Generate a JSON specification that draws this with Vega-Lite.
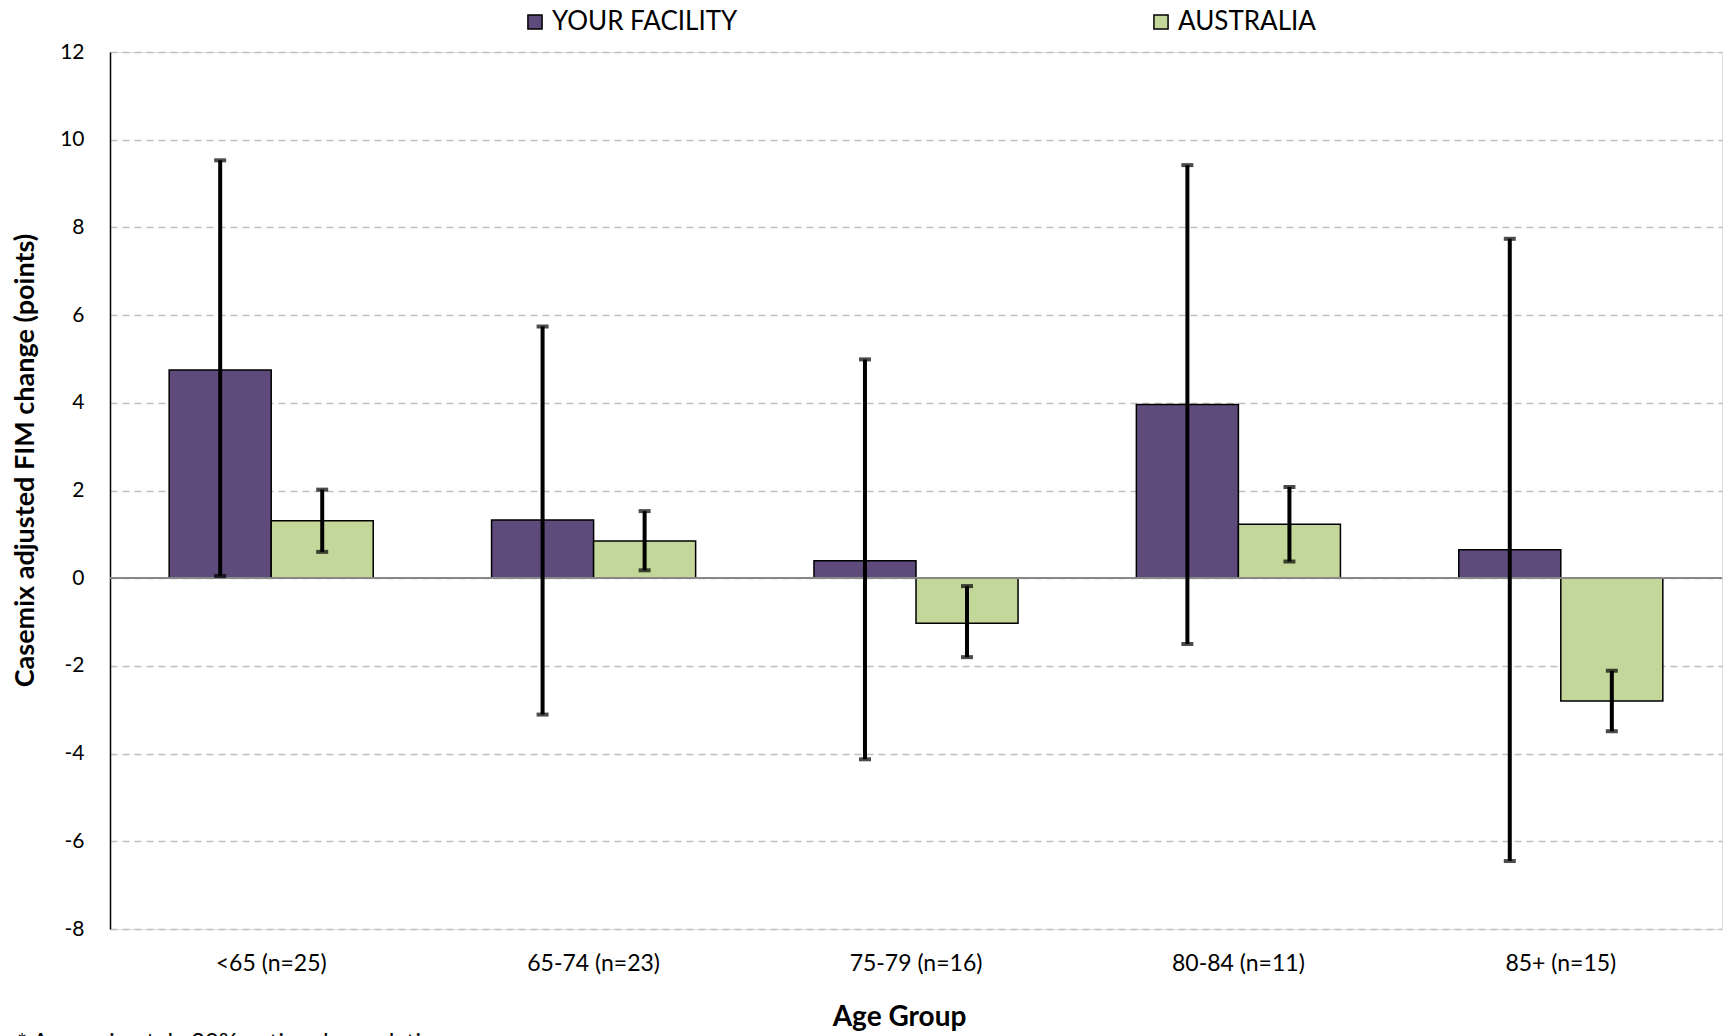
{
  "$schema": "https://vega.github.io/schema/vega-lite/v6.json",
  "width": 1612,
  "height": 877,
  "autosize": {"type": "none"},
  "padding": {"left": 110, "top": 52, "right": 3, "bottom": 107},
  "background": "white",
  "title": {
    "text": "* Approximately 20% national population per age group",
    "orient": "bottom",
    "anchor": "start",
    "frame": "group",
    "dx": -93,
    "offset": 0,
    "fontSize": 24,
    "fontWeight": "normal",
    "font": "Lato",
    "color": "#000000",
    "baseline": "top"
  },
  "data": {
    "values": [
      {"group": "<65 (n=25)", "series": "YOUR FACILITY", "value": 4.75, "lo": 0.05, "hi": 9.53},
      {"group": "<65 (n=25)", "series": "AUSTRALIA", "value": 1.31, "lo": 0.6, "hi": 2.02},
      {"group": "65-74 (n=23)", "series": "YOUR FACILITY", "value": 1.33, "lo": -3.11, "hi": 5.74},
      {"group": "65-74 (n=23)", "series": "AUSTRALIA", "value": 0.85, "lo": 0.18, "hi": 1.53},
      {"group": "75-79 (n=16)", "series": "YOUR FACILITY", "value": 0.4, "lo": -4.13, "hi": 4.99},
      {"group": "75-79 (n=16)", "series": "AUSTRALIA", "value": -1.03, "lo": -1.8, "hi": -0.18},
      {"group": "80-84 (n=11)", "series": "YOUR FACILITY", "value": 3.96, "lo": -1.5, "hi": 9.42},
      {"group": "80-84 (n=11)", "series": "AUSTRALIA", "value": 1.23, "lo": 0.38, "hi": 2.08},
      {"group": "85+ (n=15)", "series": "YOUR FACILITY", "value": 0.65, "lo": -6.45, "hi": 7.74},
      {"group": "85+ (n=15)", "series": "AUSTRALIA", "value": -2.8, "lo": -3.49, "hi": -2.11}
    ]
  },
  "encoding": {
    "x": {
      "field": "group",
      "type": "nominal",
      "sort": null,
      "scale": {"paddingInner": 0.367, "paddingOuter": 0.1835},
      "axis": {
        "title": "Age Group",
        "labelAngle": 0,
        "domain": false,
        "ticks": false,
        "labelPadding": 23,
        "labelFontSize": 23,
        "labelFont": "Lato",
        "labelColor": "#000000",
        "titleFont": "Lato",
        "titleFontSize": 28,
        "titleFontWeight": "bold",
        "titleColor": "#000000",
        "titlePadding": 28,
        "titleX": 789
      }
    },
    "xOffset": {
      "field": "series",
      "type": "nominal",
      "sort": ["YOUR FACILITY", "AUSTRALIA"],
      "scale": {"paddingInner": 0, "paddingOuter": 0}
    }
  },
  "layer": [
    {
      "mark": {"type": "bar", "stroke": "#000000", "strokeWidth": 1.5},
      "encoding": {
        "y": {
          "field": "value",
          "type": "quantitative",
          "scale": {"domain": [-8, 12], "nice": false, "zero": false},
          "axis": {
            "title": "Casemix adjusted FIM change (points)",
            "values": [-8, -6, -4, -2, 0, 2, 4, 6, 8, 10, 12],
            "labelExpr": "toString(datum.value)",
            "grid": true,
            "gridDash": [7, 5],
            "gridColor": "#c0c0c0",
            "gridWidth": 1.5,
            "domain": true,
            "domainColor": "#000000",
            "domainWidth": 1.5,
            "ticks": false,
            "labelPadding": 26,
            "labelFontSize": 21,
            "labelFont": "Lato",
            "labelColor": "#000000",
            "titleFont": "Lato",
            "titleFontSize": 27,
            "titleFontWeight": "bold",
            "titleColor": "#000000",
            "titlePadding": 20,
            "titleY": 408
          }
        },
        "color": {
          "field": "series",
          "type": "nominal",
          "sort": ["YOUR FACILITY", "AUSTRALIA"],
          "scale": {"domain": ["YOUR FACILITY", "AUSTRALIA"], "range": ["#5f4b7b", "#c4d79b"]},
          "legend": {
            "title": null,
            "orient": "none",
            "legendX": 412,
            "legendY": -43,
            "direction": "horizontal",
            "symbolType": "square",
            "symbolSize": 200,
            "symbolStrokeColor": "#000000",
            "symbolStrokeWidth": 1.5,
            "labelFontSize": 26,
            "labelFont": "Lato",
            "labelColor": "#000000",
            "labelOffset": 4,
            "labelLimit": 0,
            "columnPadding": 410
          }
        }
      }
    },
    {
      "mark": {"type": "rule", "color": "#888888", "strokeWidth": 1.5},
      "encoding": {"y": {"datum": 0, "type": "quantitative"}, "x": null, "xOffset": null}
    },
    {
      "mark": {"type": "rule", "color": "#000000", "strokeWidth": 4},
      "encoding": {
        "y": {"field": "lo", "type": "quantitative"},
        "y2": {"field": "hi"}
      }
    },
    {
      "mark": {"type": "tick", "color": "#000000", "thickness": 4, "size": 12, "orient": "horizontal"},
      "encoding": {"y": {"field": "lo", "type": "quantitative"}}
    },
    {
      "mark": {"type": "tick", "color": "#000000", "thickness": 4, "size": 12, "orient": "horizontal"},
      "encoding": {"y": {"field": "hi", "type": "quantitative"}}
    }
  ]
}
